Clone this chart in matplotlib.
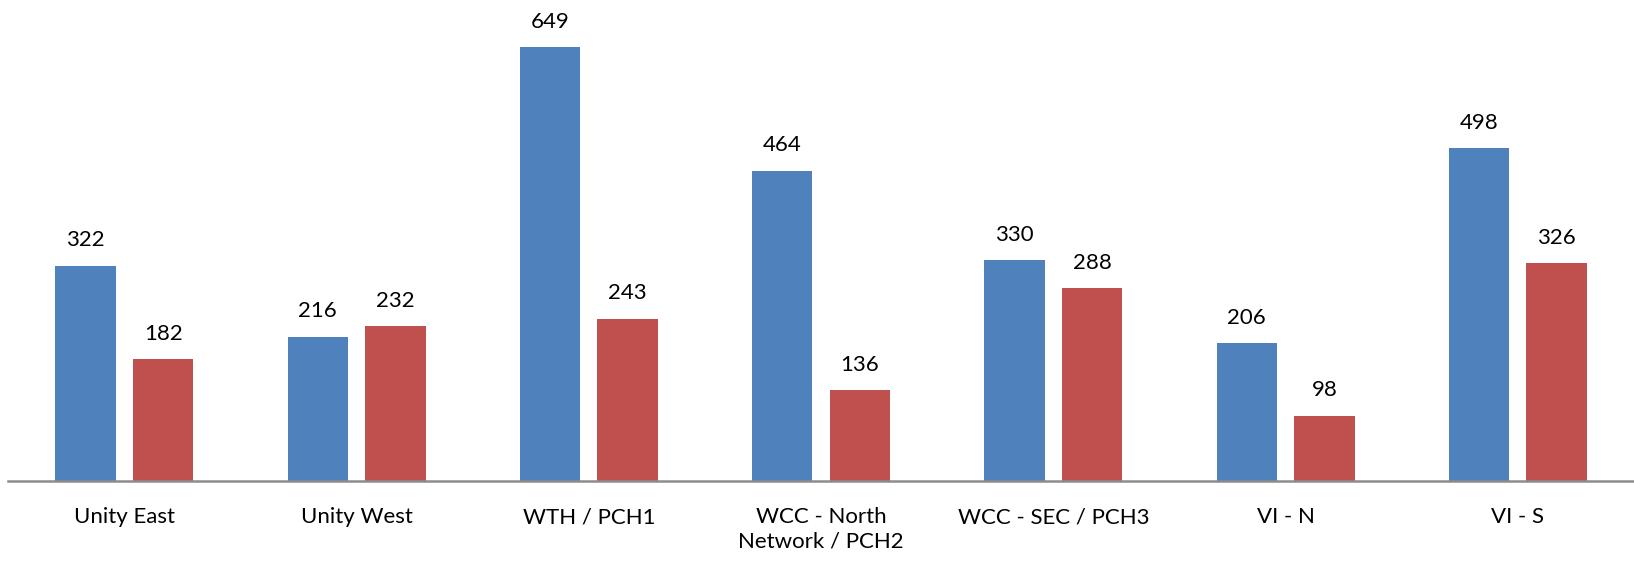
import matplotlib.pyplot as plt
import numpy as np

categories = ["Unity East", "Unity West", "WTH / PCH1", "WCC - North\nNetwork / PCH2",
              "WCC - SEC / PCH3", "VI - N", "VI - S"]
series_a = [322, 216, 649, 464, 330, 206, 498]
series_b = [182, 232, 243, 136, 288, 98, 326]

blue = "#4F81BD"
red = "#C0504D"

plt.rcParams['font.family'] = ['Lato', 'DejaVu Sans']

fig = plt.figure(figsize=(16.34, 5.62), dpi=100)
ax = fig.add_axes([0.005, 0.144, 0.995, 0.833])

x = np.arange(len(categories))
w = 0.26
off = 0.167
bars_a = ax.bar(x - off, series_a, w, color=blue)
bars_b = ax.bar(x + off, series_b, w, color=red)

for bars, vals in ((bars_a, series_a), (bars_b, series_b)):
    for b, v in zip(bars, vals):
        ax.annotate(str(v), (b.get_x() + b.get_width() / 2, v), xytext=(0, 11),
                    textcoords="offset points", ha="center", va="bottom", fontsize=16)

ax.set_xlim(-0.5, len(categories) - 0.5)
ax.set_ylim(0, 700)
ax.set_xticks(x)
ax.set_xticklabels(categories, fontsize=16, linespacing=1.25)
ax.tick_params(axis='x', length=0, pad=19)
ax.set_yticks([])
for s in ("top", "right", "left"):
    ax.spines[s].set_visible(False)
ax.spines["bottom"].set_color("#8C8C8C")
ax.spines["bottom"].set_linewidth(1.8)

fig.savefig("out.png", dpi=100)
